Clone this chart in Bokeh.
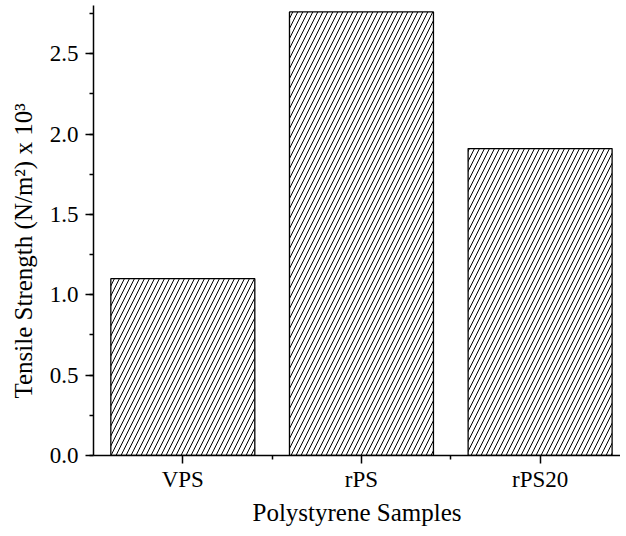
from bokeh.plotting import figure
from bokeh.models import Range1d, FixedTicker, SingleIntervalTicker, NumeralTickFormatter, ColumnDataSource, Title
from bokeh.embed import file_html
from bokeh.resources import INLINE

categories = ["VPS", "rPS", "rPS20"]
values = [1.10, 2.76, 1.91]

xs = list(range(len(categories)))
src = ColumnDataSource(dict(x=xs, top=values))

FONT = "Liberation Serif"

p = figure(width=620, height=530, output_backend="svg", toolbar_location=None,
           x_range=Range1d(-0.5, 2.45), y_range=Range1d(0, 2.80),
           min_border_left=93, min_border_right=0, min_border_top=5, min_border_bottom=75)
p.outline_line_color = None
p.xgrid.visible = False
p.ygrid.visible = False
p.background_fill_color = "white"

p.vbar(x="x", top="top", width=0.806, bottom=0, source=src,
       fill_color="white", line_color="black", line_width=1.3,
       hatch_pattern="/", hatch_scale=10, hatch_weight=1, hatch_color="black")

p.xaxis.ticker = FixedTicker(ticks=xs, minor_ticks=[0.5, 1.5])
p.xaxis.major_label_overrides = {i: c for i, c in zip(xs, categories)}
p.yaxis.ticker = SingleIntervalTicker(interval=0.5, num_minor_ticks=2)
p.yaxis.formatter = NumeralTickFormatter(format="0.0")

p.xaxis.axis_label = "Polystyrene Samples"

for ax in (p.xaxis, p.yaxis):
    ax.axis_line_width = 1.5
    ax.axis_line_color = "black"
    ax.major_tick_line_width = 1.5
    ax.minor_tick_line_width = 1.5
    ax.major_tick_line_color = "black"
    ax.minor_tick_line_color = "black"
    ax.major_tick_in = 0
    ax.major_tick_out = 8
    ax.minor_tick_in = 0
    ax.minor_tick_out = 4
    ax.major_label_text_font = FONT
    ax.major_label_text_font_size = "23px"
    ax.major_label_text_color = "black"
    ax.axis_label_text_font = FONT
    ax.axis_label_text_font_size = "25px"
    ax.axis_label_text_font_style = "normal"
    ax.axis_label_text_color = "black"

p.xaxis.major_label_standoff = 3
p.xaxis.axis_label_standoff = 4
p.yaxis.major_label_standoff = 7

ytitle = Title(text="Tensile Strength (N/m²) x 10³", align="left", offset=57,
               vertical_align="top", standoff=15, text_font=FONT, text_font_size="25px",
               text_font_style="normal", text_color="black")
p.add_layout(ytitle, "left")

open("out.html", "w").write(file_html(p, INLINE))
